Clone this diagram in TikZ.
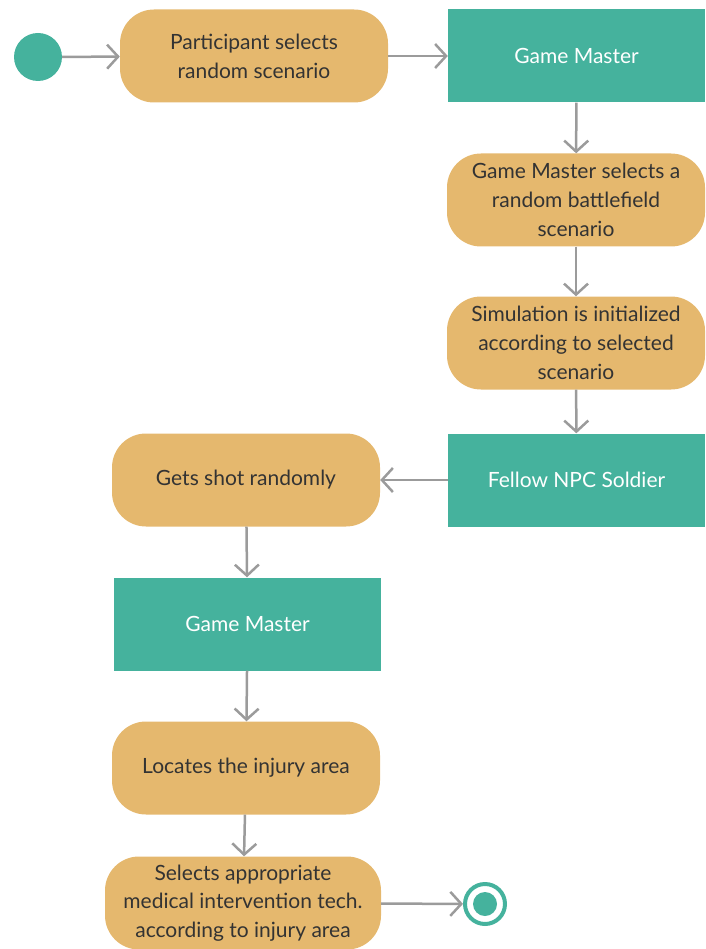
\documentclass[tikz,border=0pt]{standalone}
\usepackage{fontspec}
\setmainfont{Lato}
\usepackage{tikz}
\usetikzlibrary{arrows.meta,positioning}
\definecolor{actorange}{RGB}{229,184,110}
\definecolor{teal}{RGB}{69,178,157}
\definecolor{txtgray}{RGB}{51,51,51}
\definecolor{linegray}{RGB}{155,155,155}

\begin{document}
\begin{tikzpicture}[
    x=1pt, y=-1pt,
    act/.style={rectangle, rounded corners=34pt, fill=actorange, minimum width=268pt, minimum height=93pt, align=center, text=txtgray, font=\fontsize{21}{28.8}\selectfont},
    master/.style={rectangle, fill=teal, minimum width=257pt, minimum height=93pt, align=center, text=white, font=\fontsize{21}{28.8}\selectfont},
    arrow/.style={-{Straight Barb[length=11pt,width=24pt]}, line width=2.5pt, linegray}
]
    \useasboundingbox (0,0) rectangle (705,949);

    \node[circle, fill=teal, minimum size=48pt, inner sep=0pt] (start) at (38,57) {};
    \node[act] (pick) at (254,56) {Participant selects\\random scenario};
    \node[master] (gm1) at (576.5,56) {Game Master};
    \node[act, minimum width=258pt] (battle) at (576,200) {Game Master selects a\\random battlefield\\scenario};
    \node[act, minimum width=258pt] (init) at (576,343) {Simulation is initialized\\according to selected\\scenario};
    \node[master] (npc) at (576.5,480) {Fellow NPC Soldier};
    \node[act] (shot) at (246,480) {Gets shot randomly};
    \node[master, minimum width=267pt] (gm2) at (247.5,624) {Game Master};
    \node[act] (locate) at (246,768) {Locates the injury area};
    \node[act, minimum width=276pt] (tech) at (243,903) {Selects appropriate\\medical intervention tech.\\according to injury area};

    \node[circle, draw=teal, line width=4pt, fill=white, minimum size=40pt, inner sep=0pt] (stop) at (485,904) {};
    \fill[teal] (stop.center) circle (12pt);

    % main flow
    \draw[arrow] (start) -- (pick);
    \draw[arrow] (pick) -- (gm1);
    \draw[arrow] (gm1) -- (battle);
    \draw[arrow] (battle) -- (init);
    \draw[arrow] (init) -- (npc);
    \draw[arrow] (npc) -- (shot);
    \draw[arrow] (shot) -- (gm2);
    \draw[arrow] (gm2) -- (locate);
    \draw[arrow] (locate) -- (tech);
    \draw[arrow] (tech) -- (stop);
\end{tikzpicture}
\end{document}
